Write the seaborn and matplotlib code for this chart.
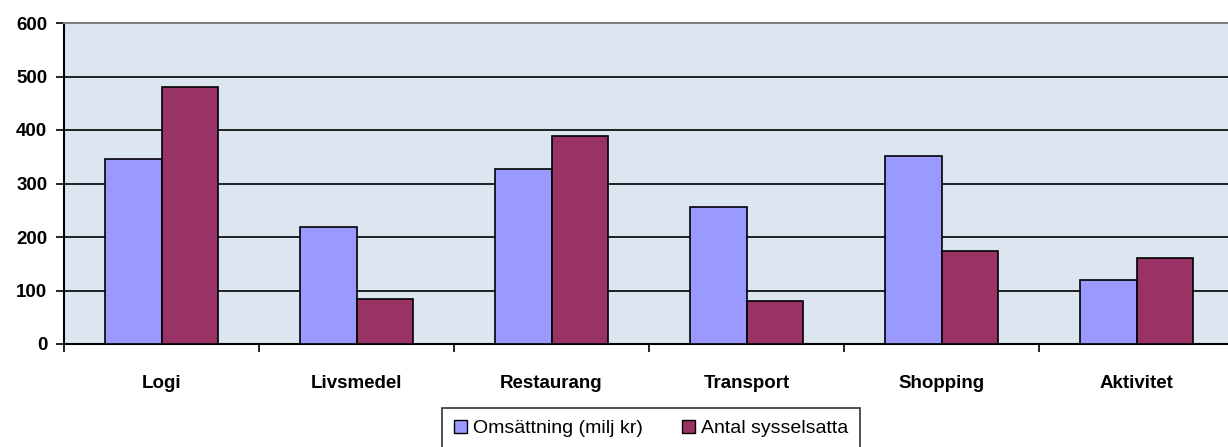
import matplotlib
matplotlib.use("Agg")
import matplotlib.pyplot as plt
import seaborn as sns
import pandas as pd
import numpy as np

# Data
categories = ["Logi", "Livsmedel", "Restaurang", "Transport", "Shopping", "Aktivitet"]
omsattning = [346, 218, 327, 256, 352, 120]
sysselsatta = [480, 84, 388, 81, 174, 160]
series_names = ["Omsättning (milj kr)", "Antal sysselsatta"]
colors = ["#9999FF", "#993366"]

df = pd.DataFrame({
    "kategori": categories * 2,
    "serie": [series_names[0]] * len(categories) + [series_names[1]] * len(categories),
    "varde": omsattning + sysselsatta,
})

sns.set_style("white")
plt.rcParams["font.family"] = ["Liberation Sans Narrow", "Liberation Sans", "DejaVu Sans"]
plt.rcParams["text.color"] = "black"
plt.rcParams["xtick.color"] = "black"
plt.rcParams["ytick.color"] = "black"

fig = plt.figure(figsize=(12.28, 4.47), dpi=100)
ax = fig.add_axes([64 / 1228, 103 / 447, 1170 / 1228, 321 / 447])
ax.set_facecolor("#DCE6F1")

sns.barplot(data=df, x="kategori", y="varde", hue="serie", order=categories,
            hue_order=series_names, palette=colors, width=0.575,
            edgecolor="black", linewidth=1.2, saturation=1, ax=ax, zorder=3)

ax.set_ylim(0, 600)
ax.set_xlim(-0.5, len(categories) - 0.5)
ax.set_yticks(np.arange(0, 601, 100))
ax.yaxis.grid(True, color="black", linewidth=1.2, zorder=0)
ax.set_axisbelow(True)

# category labels centred, tick marks on the boundaries
ax.set_xticks(range(len(categories)))
ax.set_xticklabels(categories, fontsize=13.5, fontweight="bold")
ax.tick_params(axis="x", which="major", bottom=True, length=0, pad=22)
ax.set_xticks(np.arange(-0.5, len(categories)), minor=True)
ax.tick_params(axis="x", which="minor", bottom=True, length=6, width=1.2,
               color="black", direction="out")
ax.tick_params(axis="y", left=True, length=6, width=1.2, color="black",
               direction="out", pad=6, labelsize=13.5)
for lbl in ax.get_yticklabels():
    lbl.set_fontweight("bold")

ax.set_xlabel("")
ax.set_ylabel("")

for side in ["left", "bottom"]:
    ax.spines[side].set_color("black")
    ax.spines[side].set_linewidth(1.5)
ax.spines["top"].set_color("#808080")
ax.spines["top"].set_linewidth(1.5)
ax.spines["right"].set_visible(False)

leg = ax.legend(loc="upper center", bbox_to_anchor=(651 / 1228, (447 - 408) / 447),
                bbox_transform=fig.transFigure, ncol=2, frameon=True,
                fancybox=False, edgecolor="black", fontsize=14,
                handlelength=0.7, handleheight=0.7, handletextpad=0.3,
                columnspacing=2.0, borderpad=0.6, borderaxespad=0)
leg.get_frame().set_linewidth(1.2)
for h in leg.legend_handles:
    h.set_edgecolor("black")
    h.set_linewidth(1)

fig.savefig("out.png", dpi=100)
